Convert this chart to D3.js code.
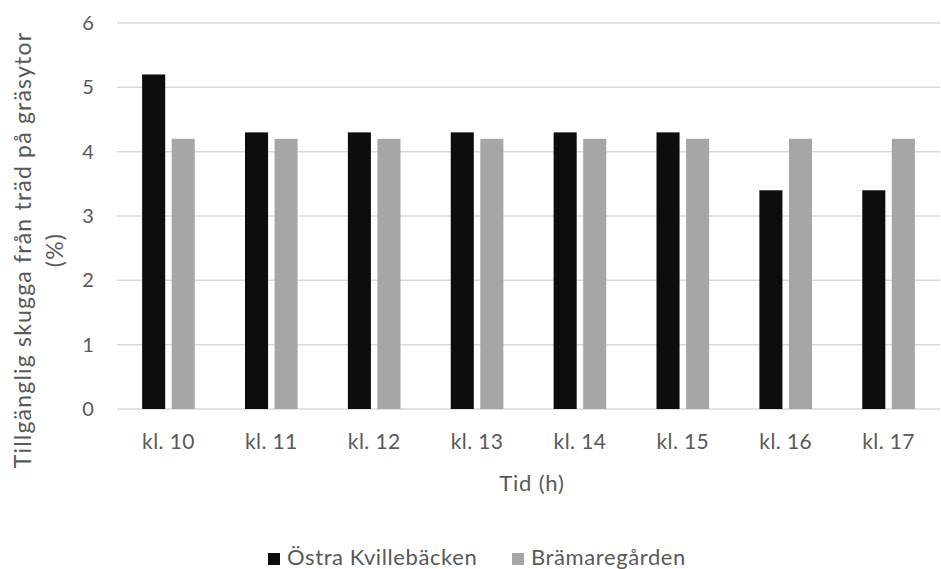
<!DOCTYPE html>
<html>
<head>
<meta charset="utf-8">
<script src="https://cdn.jsdelivr.net/npm/d3@7"></script>
<style>
  html, body { margin: 0; padding: 0; background: #fff; }
  svg { display: block; }
  text { font-family: Lato, "Open Sans", sans-serif; fill: #595959; }
</style>
</head>
<body>
<svg id="chart" width="941" height="569"></svg>
<script>
// Time slots and shade availability per site (%)
const categories = ["kl. 10", "kl. 11", "kl. 12", "kl. 13", "kl. 14", "kl. 15", "kl. 16", "kl. 17"];
const seriesNames = ["Östra Kvillebäcken", "Brämaregården"];
const ostraKvillebacken = [5.2, 4.3, 4.3, 4.3, 4.3, 4.3, 3.4, 3.4];
const bramaregarden = [4.2, 4.2, 4.2, 4.2, 4.2, 4.2, 4.2, 4.2];
const yTicks = [0, 1, 2, 3, 4, 5, 6];
const colors = ["#0d0d0d", "#a6a6a6"];

const seriesValues = [ostraKvillebacken, bramaregarden];
const data = categories.map((c, i) => ({
  cat: c,
  values: seriesNames.map((s, j) => ({ series: s, value: seriesValues[j][i] }))
}));

const svg = d3.select("#chart");
const plotLeft = 117, plotRight = 940, plotTop = 23, plotBottom = 409;
const fontStack = "Lato, 'Open Sans', sans-serif";

const x0 = d3.scaleBand().domain(categories).range([plotLeft, plotRight]).padding(0);
const x1 = d3.scaleBand().domain(seriesNames).range([0, x0.bandwidth()])
  .paddingInner(0.22).paddingOuter(0.85);
const y = d3.scaleLinear().domain([0, 6]).range([plotBottom, plotTop]);

// Horizontal gridlines
svg.append("g")
  .selectAll("line")
  .data(yTicks)
  .join("line")
  .attr("x1", plotLeft).attr("x2", plotRight)
  .attr("y1", d => y(d)).attr("y2", d => y(d))
  .attr("stroke", "#d9d9d9").attr("stroke-width", 1.5);

// Y tick labels
const yAxis = svg.append("g")
  .attr("transform", `translate(88,0)`)
  .call(d3.axisLeft(y).tickValues(yTicks).tickFormat(d3.format("d")).tickSize(0).tickPadding(0));
yAxis.select(".domain").remove();
yAxis.selectAll("text")
  .attr("font-size", 20)
  .attr("text-anchor", "middle")
  .style("font-family", fontStack)
  .attr("fill", "#595959");

// Bars
svg.append("g")
  .selectAll("g")
  .data(data)
  .join("g")
  .attr("transform", d => `translate(${x0(d.cat)},0)`)
  .selectAll("rect")
  .data(d => d.values)
  .join("rect")
  .attr("x", d => x1(d.series))
  .attr("width", x1.bandwidth())
  .attr("y", d => y(d.value))
  .attr("height", d => y(0) - y(d.value))
  .attr("fill", (d, i) => colors[i]);

// Category labels
const xAxis = svg.append("g")
  .attr("transform", `translate(0,${plotBottom})`)
  .call(d3.axisBottom(x0).tickSize(0).tickPadding(25));
xAxis.select(".domain").remove();
xAxis.selectAll("text")
  .attr("font-size", 21)
  .attr("letter-spacing", 0.4)
  .style("font-family", fontStack)
  .attr("fill", "#595959");

// Axis titles
svg.append("text")
  .attr("x", 532)
  .attr("y", 491)
  .attr("text-anchor", "middle")
  .attr("font-size", 22)
  .attr("letter-spacing", 0.8)
  .text("Tid (h)");

const yTitle = svg.append("text")
  .attr("transform", `translate(31,250) rotate(-90)`)
  .attr("text-anchor", "middle")
  .attr("font-size", 23)
  .attr("letter-spacing", 1.2);
yTitle.append("tspan").attr("x", 0).attr("dy", 0).text("Tillgänglig skugga från träd på gräsytor");
yTitle.append("tspan").attr("x", 0).attr("dy", 32).text("(%)");

// Legend
const legendItems = [
  { name: seriesNames[0], color: colors[0], x: 268 },
  { name: seriesNames[1], color: colors[1], x: 512 }
];
const legend = svg.append("g");
legendItems.forEach(it => {
  legend.append("rect")
    .attr("x", it.x).attr("y", 553)
    .attr("width", 12).attr("height", 12)
    .attr("fill", it.color);
  legend.append("text")
    .attr("x", it.x + 19).attr("y", 565)
    .attr("font-size", 22)
    .attr("letter-spacing", 0.6)
    .text(it.name);
});
</script>
</body>
</html>
